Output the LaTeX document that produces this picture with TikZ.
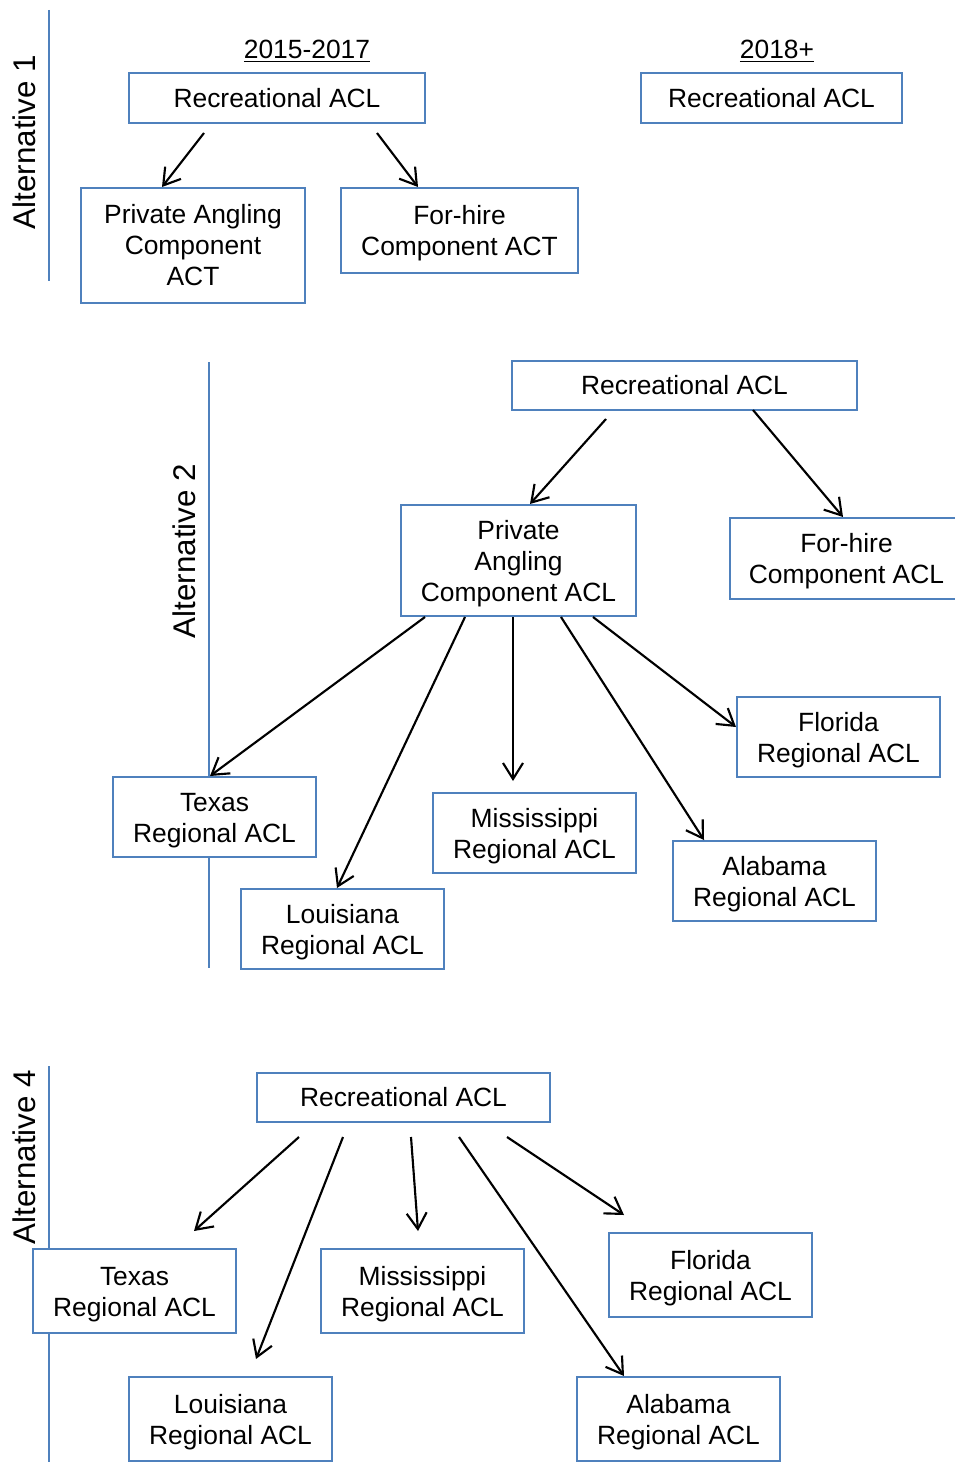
\documentclass[tikz,border=0pt]{standalone}
\usepackage{fontspec}
\setmainfont{Liberation Sans}
\usetikzlibrary{arrows.meta}
\definecolor{bluebox}{RGB}{79,129,189}
\newcommand\bx[6]{\node[box, minimum width={0.75pt*(#4-#2)}, minimum height={0.75pt*(#5-#3)}] (#1) at ({(#2+#4)/2},{(#3+#5)/2}) {#6};}
\newcommand\tp{\rule{0pt}{18.6pt}}
\begin{document}
\begin{tikzpicture}[x=0.75pt, y=-0.75pt,
  box/.style={draw=bluebox, line width=1.5pt, fill=white, inner sep=0pt, align=center, font=\fontsize{19.8pt}{23.25pt}\selectfont},
  arr/.style={-{Straight Barb[length=12pt,width=15pt]}, line width=1.6pt, black},
  vline/.style={draw=bluebox, line width=2pt},
  alt/.style={rotate=90, inner sep=0pt, font=\fontsize{23.5pt}{28pt}\selectfont},
  head/.style={inner sep=0pt, anchor=base, font=\fontsize{19.8pt}{23.25pt}\selectfont}]
\useasboundingbox (0,0) rectangle (955,1462);
\clip (0,0) rectangle (955,1462);

% ---------- Alternative 1 ----------
\draw[vline] (49,10) -- (49,281);
\node[alt] (alt1) at (24,142) {Alternative 1};
\node[head] (h1) at (307,59) {\underline{2015-2017}};
\node[head] (h2) at (777,59) {\underline{2018+}};
\bx{rec1}{129}{73}{425}{123}{Recreational ACL}
\bx{rec1b}{641}{73}{902}{123}{Recreational ACL}
\bx{pa1}{81}{188}{305}{303}{Private Angling\\Component\\ACT}
\bx{fh1}{341}{188}{578}{273}{\tp For-hire\\Component ACT}
\coordinate (s1a) at (204,133);
\coordinate (s1b) at (377,133);
\draw[arr] (s1a) -- (162,0 |- pa1.north);
\draw[arr] (s1b) -- (418,0 |- fh1.north);

% ---------- Alternative 2 ----------
\draw[vline] (209,362) -- (209,968);
\node[alt] (alt2) at (184,551) {Alternative 2};
\bx{rec2}{512}{361}{857}{410}{Recreational ACL}
\bx{pa2}{401}{505}{636}{616}{\tp Private\\Angling\\Component ACL}
\bx{fh2}{730}{518}{963}{599}{\tp For-hire\\Component ACL}
\bx{tx2}{113}{777}{316}{857}{\tp Texas\\Regional ACL}
\bx{lo2}{241}{889}{444}{969}{\tp Louisiana\\Regional ACL}
\bx{ms2}{433}{793}{636}{873}{\tp Mississippi\\Regional ACL}
\bx{fl2}{737}{697}{940}{777}{\tp Florida\\Regional ACL}
\bx{al2}{673}{841}{876}{921}{\tp Alabama\\Regional ACL}
\coordinate (s2a) at (606,419);
\coordinate (s2b) at (753,410);
\coordinate (e2ms) at (513,781);
\draw[arr] (s2a) -- (530,0 |- pa2.north);
\draw[arr] (s2b) -- (843,0 |- fh2.north);
\draw[arr] (425,0 |- pa2.south) -- (210,0 |- tx2.north);
\draw[arr] (465,0 |- pa2.south) -- (337,0 |- lo2.north);
\draw[arr] (513,0 |- pa2.south) -- (e2ms);
\draw[arr] (561,0 |- pa2.south) -- (704,0 |- al2.north);
\draw[arr] (593,0 |- pa2.south) -- (fl2.west |- 0,727);

% ---------- Alternative 4 ----------
\draw[vline] (49,1066) -- (49,1462);
\node[alt] (alt4) at (24,1157) {Alternative 4};
\bx{rec4}{257}{1073}{550}{1122}{Recreational ACL}
\bx{tx4}{33}{1249}{236}{1333}{\tp Texas\\Regional ACL}
\bx{ms4}{321}{1249}{524}{1333}{\tp Mississippi\\Regional ACL}
\bx{fl4}{609}{1233}{812}{1317}{\tp Florida\\Regional ACL}
\bx{lo4}{129}{1377}{332}{1461}{\tp Louisiana\\Regional ACL}
\bx{al4}{577}{1377}{780}{1461}{\tp Alabama\\Regional ACL}
\coordinate (s4a) at (299,1137);
\coordinate (s4b) at (343,1137);
\coordinate (s4c) at (411,1137);
\coordinate (s4d) at (459,1137);
\coordinate (s4e) at (507,1137);
\coordinate (e4tx) at (194,1231);
\coordinate (e4lo) at (256,1359);
\coordinate (e4ms) at (418,1231);
\coordinate (e4fl) at (624,1215);
\draw[arr] (s4a) -- (e4tx);
\draw[arr] (s4b) -- (e4lo);
\draw[arr] (s4c) -- (e4ms);
\draw[arr] (s4d) -- (624,0 |- al4.north);
\draw[arr] (s4e) -- (e4fl);
\end{tikzpicture}
\end{document}
